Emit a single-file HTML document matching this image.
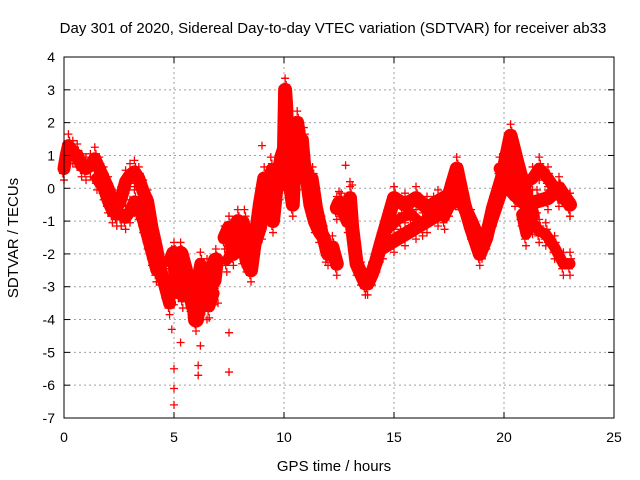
<!DOCTYPE html>
<html><head><meta charset="utf-8"><style>
body{margin:0;background:#fff;}
svg{display:block;font-family:"Liberation Sans",sans-serif;}
</style></head><body>
<svg id="chart" width="640" height="480">
<text x="333" y="33" font-size="15" text-anchor="middle">Day 301 of 2020, Sidereal Day-to-day VTEC variation (SDTVAR) for receiver ab33</text>
<text x="334" y="471" font-size="15" text-anchor="middle">GPS time / hours</text>
<text transform="translate(18,238) rotate(-90)" font-size="15" text-anchor="middle">SDTVAR / TECUs</text>
<g id="grid"></g><g id="marks"></g><g id="axes"></g>
</svg>
<script>
const xTicks=[0,5,10,15,20,25];
const yTicks=[4,3,2,1,0,-1,-2,-3,-4,-5,-6,-7];
const trackATimes=[0,0.1,0.2,0.4,0.6,0.8,1.0,1.2,1.4,1.6,1.8,2.0,2.2,2.4,2.6,2.8,3.0,3.2,3.4,3.6,3.8,4.0,4.2,4.4,4.6,4.8];
const trackAValues=[0.6,1.0,1.3,1.1,1.0,0.7,0.6,0.7,0.9,0.6,0.3,0.0,-0.4,-0.6,-0.3,0.2,0.4,0.5,0.3,-0.1,-0.4,-1.2,-1.8,-2.5,-3.0,-3.5];
const trackBTimes=[1.5,1.8,2.0,2.2,2.4,2.6,2.8,3.0,3.2,3.4,3.6,3.8,4.0,4.2,4.4,4.6];
const trackBValues=[0.3,0.0,-0.4,-0.7,-0.8,-0.8,-0.9,-0.7,-0.4,-0.6,-1.0,-1.5,-2.0,-2.5,-2.6,-2.8];
const trackCTimes=[4.9,5.0,5.1,5.2,5.3,5.5,5.7,5.9,6.0,6.1,6.3,6.5,6.6,6.8,6.9];
const trackCValues=[-2.2,-2.0,-2.5,-3.0,-2.0,-2.5,-3.0,-3.2,-4.0,-3.5,-2.7,-2.5,-3.0,-2.8,-2.2];
const trackC2Times=[4.8,5.0,5.2,5.4,5.6,5.8,6.0,6.2,6.4,6.6,6.8];
const trackC2Values=[-2.8,-3.2,-2.4,-3.3,-2.8,-3.6,-3.0,-2.3,-3.4,-3.6,-3.2];
const trackDTimes=[7.3,7.5,7.7,7.9,8.1,8.3,8.5,8.7,8.9,9.1,9.3,9.5,9.7,9.9,10.0,10.05,10.1,10.2,10.3,10.4,10.5,10.6,10.8,11.0,11.2,11.4,11.6,11.8,12.0,12.2,12.4];
const trackDValues=[-1.5,-1.2,-2.0,-1.0,-1.5,-2.2,-2.5,-1.5,-0.5,0.3,0.0,-1.0,0.3,1.0,1.2,3.0,2.5,0.5,0.0,-0.5,1.5,2.0,1.0,0.5,-0.5,-1.0,-1.3,-1.5,-2.0,-1.8,-2.3];
const trackD2Times=[7.4,7.8,8.2,8.6,9.0,9.2,9.4,9.6,9.8,10.0,10.3,10.6,10.9,11.1];
const trackD2Values=[-2.2,-1.6,-1.0,-2.0,-1.2,-0.3,0.6,0.2,0.0,0.8,1.0,0.3,1.5,0.0];
const trackETimes=[11.3,11.5,11.7,11.9];
const trackEValues=[0.3,-0.6,-1.2,-1.9];
const trackFTimes=[12.4,12.5,12.6,12.9,13.0,13.1,13.3,13.5,13.7,13.8,14.0,14.2,14.4,14.7,15.0];
const trackFValues=[-0.6,-0.45,-0.5,-1.0,-0.3,-1.2,-2.3,-2.6,-2.9,-2.9,-2.6,-2.2,-1.7,-1.0,-0.3];
const trackGTimes=[15.0,15.5,16.0,16.5,17.0,17.5,17.85,18.2,18.5,18.9,19.2,19.5,19.9,20.3,20.6,21.0,21.3];
const trackGValues=[-0.3,-0.5,-0.3,-0.6,-0.4,-0.2,0.6,-0.5,-1.2,-2.0,-1.5,-0.6,0.3,1.6,0.8,-0.2,-0.8];
const trackHTimes=[14.5,15.0,15.5,16.0,16.5,17.0,17.5,18.0,18.5,19.0,19.5,20.0,20.5,21.0,21.5,22.0,22.5,23.0];
const trackHValues=[-1.8,-1.6,-1.4,-1.2,-1.0,-0.8,-0.5,-0.3,-1.0,-1.8,-0.8,0.2,-0.2,-0.5,-0.4,-0.3,0.0,-0.5];
const trackH2Times=[14.8,15.3,15.8,16.3,16.8,17.3,17.8];
const trackH2Values=[-1.2,-0.9,-0.8,-1.1,-0.6,-0.9,-0.2];
const trackITimes=[19.8,20.3,20.8,21.3,21.6,22.0,22.5,23.0];
const trackIValues=[0.6,0.4,0.1,0.3,0.6,0.3,-0.2,-0.5];
const trackJTimes=[20.8,21.0,21.3,21.6,21.9,22.3,22.7,23.0];
const trackJValues=[-0.8,-1.4,-1.05,-1.3,-1.4,-1.8,-2.3,-2.3];
const outlierTimes=[5.0,5.0,5.0,4.9,5.3,6.1,6.1,6.2,6.5,7.5,7.5,7.0,8.1,9.0,12.8,13.0,13.1];
const outlierValues=[-6.6,-6.1,-5.5,-4.3,-4.7,-5.7,-5.4,-4.8,-4.0,-5.6,-4.4,-3.5,-2.3,1.3,0.7,0.2,0.1];

const NS='http://www.w3.org/2000/svg';
const L=64,R=614,T=57,B=418;
const xS=t=>L+(t-0)/25*(R-L);
const yS=v=>T+(4-v)/11*(B-T);
function mk(tag,at,parent){const e=document.createElementNS(NS,tag);for(const k in at)e.setAttribute(k,at[k]);parent.appendChild(e);return e;}
const grid=document.getElementById('grid'),axes=document.getElementById('axes'),marks=document.getElementById('marks');
xTicks.forEach(t=>{const x=xS(t);
 if(t>0&&t<25){const g=mk('line',{x1:x,y1:T,x2:x,y2:B,stroke:'#a0a0a0','stroke-dasharray':'2,3'},grid);
 
 }
 mk('line',{x1:x,y1:B,x2:x,y2:B-6,stroke:'#000'},axes);mk('line',{x1:x,y1:T,x2:x,y2:T+6,stroke:'#000'},axes);
 const tx=mk('text',{x:x,y:B+24,'font-size':14,'text-anchor':'middle'},axes);tx.textContent=t;
 
 });
yTicks.forEach(v=>{const y=yS(v);
 if(v<4&&v>-7){const g=mk('line',{x1:L,y1:y,x2:R,y2:y,stroke:'#a0a0a0','stroke-dasharray':'2,3'},grid);
 
 }
 mk('line',{x1:L,y1:y,x2:L+6,y2:y,stroke:'#000'},axes);mk('line',{x1:R,y1:y,x2:R-6,y2:y,stroke:'#000'},axes);
 const tx=mk('text',{x:L-9,y:y+5,'font-size':14,'text-anchor':'end'},axes);tx.textContent=v;
 
 });
const frame=mk('rect',{x:L,y:T,width:R-L,height:B-T,fill:'none',stroke:'#000'},axes);


function plus(t,v){const x=xS(t),y=yS(v);const p=mk('path',{d:`M${x-4} ${y}h8M${x} ${y-4}v8`,stroke:'#f00','stroke-width':1.3},marks);
 
 }
const tracks=[[trackATimes,trackAValues,13],[trackBTimes,trackBValues,12],[trackCTimes,trackCValues,16],[trackC2Times,trackC2Values,12],[trackDTimes,trackDValues,14],[trackD2Times,trackD2Values,10],[trackETimes,trackEValues,12],[trackFTimes,trackFValues,14],[trackGTimes,trackGValues,14],[trackHTimes,trackHValues,14],[trackH2Times,trackH2Values,10],[trackITimes,trackIValues,12],[trackJTimes,trackJValues,11]];
tracks.forEach(([ts,vs,w])=>{
 const pl=mk('polyline',{points:ts.map((t,i)=>xS(t)+','+yS(vs[i])).join(' '),fill:'none',stroke:'#f00','stroke-width':w,'stroke-linejoin':'round','stroke-linecap':'round'},marks);
 
 
 ts.forEach((t,i)=>{plus(t,vs[i]+0.35);plus(t,vs[i]-0.35);plus(t+0.05,vs[i]+0.15);plus(t-0.05,vs[i]-0.15);});
});
outlierTimes.forEach((t,i)=>plus(t,outlierValues[i]));
</script>
</body></html>
